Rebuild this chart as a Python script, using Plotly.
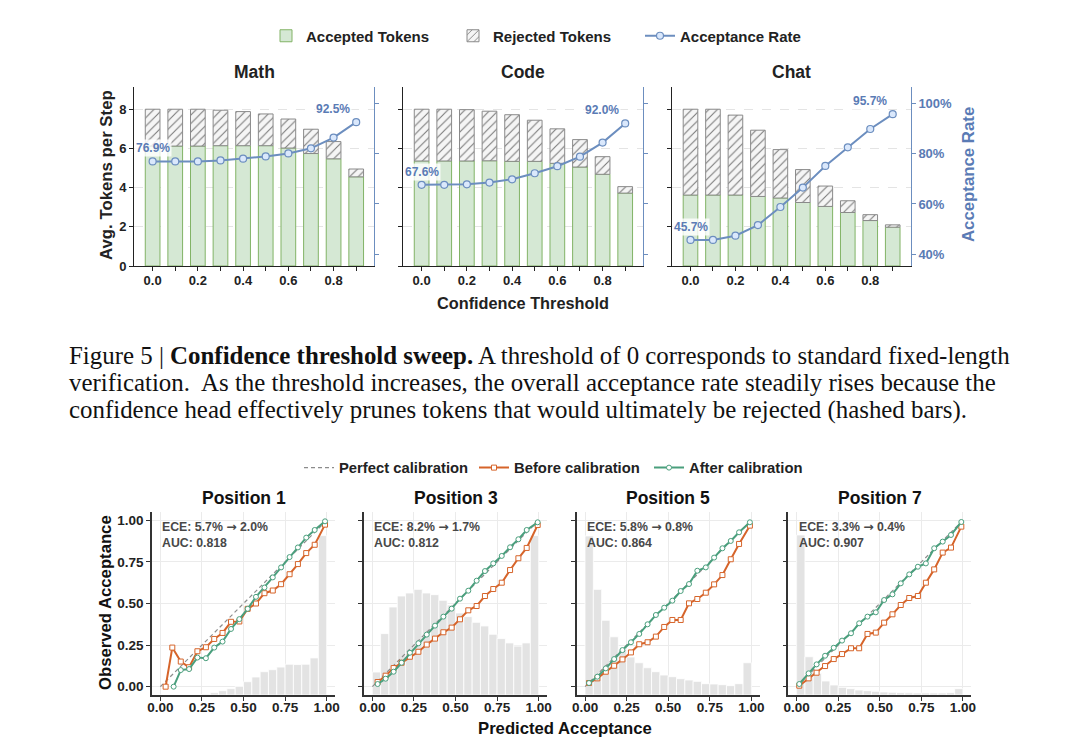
import plotly.graph_objects as go

# %% data -- confidence threshold sweep (top figure)
thresholds = [0.0, 0.1, 0.2, 0.3, 0.4, 0.5, 0.6, 0.7, 0.8, 0.9]
threshold_ticks = ["0.0", "", "0.2", "", "0.4", "", "0.6", "", "0.8", ""]

math_total = [8.0, 8.0, 8.0, 7.95, 7.88, 7.76, 7.5, 6.98, 6.35, 4.95]
math_accepted = [6.12, 6.12, 6.12, 6.14, 6.14, 6.14, 6.02, 5.74, 5.47, 4.55]
math_rate = [76.9, 76.9, 76.9, 77.3, 78.0, 78.9, 80.1, 82.1, 86.4, 92.5]

code_total = [8.0, 8.0, 7.98, 7.9, 7.72, 7.44, 7.0, 6.45, 5.58, 4.05]
code_accepted = [5.36, 5.36, 5.36, 5.37, 5.34, 5.34, 5.24, 5.05, 4.68, 3.72]
code_rate = [67.6, 67.6, 67.8, 68.5, 69.8, 72.2, 75.0, 78.8, 84.4, 92.0]

chat_total = [8.0, 8.0, 7.7, 6.93, 5.94, 4.92, 4.08, 3.33, 2.62, 2.1]
chat_accepted = [3.62, 3.62, 3.62, 3.55, 3.47, 3.24, 3.04, 2.73, 2.32, 1.98]
chat_rate = [45.7, 45.7, 47.4, 51.6, 58.8, 66.5, 75.1, 82.5, 89.8, 95.7]

domains = ["Math", "Code", "Chat"]
rate_ticks = [40, 60, 80, 100]
rate_ticktext = ["40%", "60%", "80%", "100%"]

caption_lines = [
    "Figure 5 | <b>Confidence threshold sweep.</b> A threshold of 0 corresponds to standard fixed-length",
    "verification.  As the threshold increases, the overall acceptance rate steadily rises because the",
    "confidence head effectively prunes tokens that would ultimately be rejected (hashed bars).",
]

# %% data -- calibration (bottom figure)
positions = ["Position 1", "Position 3", "Position 5", "Position 7"]
ece_before = ["5.7%", "8.2%", "5.8%", "3.3%"]
ece_after = ["2.0%", "1.7%", "0.8%", "0.4%"]
auc = ["0.818", "0.812", "0.864", "0.907"]

bin_centers = [0.025, 0.075, 0.125, 0.175, 0.225, 0.275, 0.325, 0.375, 0.425, 0.475,
               0.525, 0.575, 0.625, 0.675, 0.725, 0.775, 0.825, 0.875, 0.925, 0.975]

p1_hist = [0, 0, 0, 0, 0, 0.005, 0.014, 0.026, 0.038, 0.052,
           0.08, 0.108, 0.14, 0.152, 0.168, 0.185, 0.183, 0.185, 0.223, 0.958]
p3_hist = [0.138, 0.369, 0.529, 0.595, 0.613, 0.635, 0.613, 0.603, 0.569, 0.541,
           0.493, 0.471, 0.437, 0.415, 0.365, 0.339, 0.313, 0.294, 0.313, 0.958]
p5_hist = [0.956, 0.635, 0.449, 0.35, 0.274, 0.228, 0.194, 0.164, 0.14, 0.12,
           0.11, 0.098, 0.09, 0.082, 0.068, 0.066, 0.062, 0.056, 0.068, 0.194]
p7_hist = [0.962, 0.23, 0.13, 0.084, 0.06, 0.046, 0.038, 0.03, 0.026, 0.022,
           0.018, 0.016, 0.014, 0.013, 0.012, 0.012, 0.012, 0.012, 0.014, 0.038]

p1_x_before = [0.032, 0.072, 0.123, 0.173, 0.223, 0.274, 0.324, 0.374, 0.425, 0.475,
               0.525, 0.575, 0.626, 0.676, 0.726, 0.777, 0.827, 0.877, 0.928, 0.99]
p1_before = [0.0, 0.235, 0.151, 0.117, 0.213, 0.237, 0.287, 0.323, 0.39, 0.392,
             0.468, 0.5, 0.562, 0.578, 0.616, 0.676, 0.737, 0.803, 0.853, 0.974]
p1_x_after = [0.08, 0.123, 0.173, 0.223, 0.274, 0.324, 0.374, 0.425, 0.475,
              0.525, 0.575, 0.626, 0.676, 0.726, 0.777, 0.827, 0.877, 0.928, 0.99]
p1_after = [0.0, 0.1, 0.106, 0.175, 0.171, 0.235, 0.271, 0.347, 0.406,
            0.468, 0.54, 0.596, 0.657, 0.717, 0.779, 0.837, 0.896, 0.942, 0.994]

p3_x = [0.032, 0.08, 0.128, 0.176, 0.226, 0.277, 0.327, 0.377, 0.427, 0.477,
        0.527, 0.577, 0.627, 0.677, 0.727, 0.778, 0.828, 0.878, 0.928, 0.994]
p3_before = [0.028, 0.066, 0.112, 0.144, 0.18, 0.21, 0.253, 0.289, 0.327, 0.355,
             0.405, 0.459, 0.485, 0.545, 0.587, 0.625, 0.701, 0.772, 0.834, 0.972]
p3_after = [0.016, 0.048, 0.09, 0.144, 0.204, 0.261, 0.313, 0.367, 0.421, 0.469,
            0.529, 0.577, 0.637, 0.695, 0.741, 0.786, 0.838, 0.886, 0.942, 0.988]

p5_x = [0.024, 0.074, 0.125, 0.175, 0.225, 0.276, 0.326, 0.376, 0.426, 0.476,
        0.525, 0.575, 0.625, 0.675, 0.726, 0.776, 0.826, 0.876, 0.926, 0.991]
p5_before = [0.022, 0.05, 0.09, 0.126, 0.164, 0.206, 0.255, 0.267, 0.301, 0.359,
             0.401, 0.401, 0.501, 0.527, 0.565, 0.615, 0.671, 0.766, 0.858, 0.968]
p5_after = [0.022, 0.06, 0.11, 0.166, 0.22, 0.267, 0.317, 0.375, 0.431, 0.475,
            0.517, 0.575, 0.617, 0.697, 0.717, 0.776, 0.832, 0.876, 0.928, 0.988]

p7_x = [0.016, 0.072, 0.12, 0.171, 0.223, 0.273, 0.327, 0.376, 0.426, 0.476,
        0.526, 0.576, 0.626, 0.677, 0.729, 0.777, 0.827, 0.878, 0.928, 0.99]
p7_before = [0.006, 0.05, 0.084, 0.124, 0.166, 0.196, 0.231, 0.231, 0.317, 0.325,
             0.385, 0.435, 0.491, 0.533, 0.545, 0.625, 0.705, 0.806, 0.836, 0.962]
p7_after = [0.016, 0.08, 0.134, 0.186, 0.234, 0.277, 0.321, 0.381, 0.421, 0.447,
            0.521, 0.555, 0.621, 0.675, 0.721, 0.741, 0.832, 0.872, 0.912, 0.99]

calib_ticks = [0, 0.25, 0.5, 0.75, 1.0]
calib_ticktext = ["0.00", "0.25", "0.50", "0.75", "1.00"]

# %% styling
# the page body has an 8px margin, so the figure is drawn 16px smaller and every
# position below is given in window pixels and shifted by that offset
OFF = 8
W, H = 1080 - 2 * OFF, 746 - 2 * OFF
FONT = "Liberation Sans"
GREEN_FILL, GREEN_EDGE = "#d5e8d4", "#82b366"
GREY_FILL, GREY_EDGE = "#f5f5f5", "#8a8a8a"
BLUE, BLUE_TXT, BLUE_FILL = "#6c8ebf", "#5a7bb5", "#dae8fc"
ORANGE, TEAL = "#d6642a", "#4a9f7d"


def px_x(p):
    return (p - OFF) / W


def px_y(p):
    return 1 - (p - OFF) / H


def label(text, xp, yp, size, color, angle=0):
    fig.add_annotation(
        x=px_x(xp), y=px_y(yp), xref="paper", yref="paper", text=text,
        xanchor="center", yanchor="middle", textangle=angle, showarrow=False,
        font=dict(family=FONT, size=size, color=color),
    )


top_xdom = [[134.3, 374.3], [403.3, 643.3], [672.3, 910.7]]
top_ydom = [px_y(266), px_y(86.7)]
bot_xdom = [[152, 335], [364, 547], [576.7, 759.7], [788.3, 971.3]]
bot_ydom = [px_y(695), px_y(512)]

fig = go.Figure()

# %% top: stacked bars + acceptance rate line
top_data = [
    (math_total, math_accepted, math_rate),
    (code_total, code_accepted, code_rate),
    (chat_total, chat_accepted, chat_rate),
]
for i, (total, accepted, rate) in enumerate(top_data):
    xa = "x" if i == 0 else f"x{i + 1}"
    ya = "y" if i == 0 else f"y{i + 1}"
    yr = f"y{i + 4}"
    rejected = [t - a for t, a in zip(total, accepted)]
    fig.add_trace(go.Bar(
        x=thresholds, y=accepted, base=0, width=0.065, xaxis=xa, yaxis=ya,
        marker=dict(color=GREEN_FILL, line=dict(color=GREEN_EDGE, width=1)),
        name="Accepted Tokens", legend="legend", showlegend=(i == 0),
    ))
    fig.add_trace(go.Bar(
        x=thresholds, y=rejected, base=accepted, width=0.065, xaxis=xa, yaxis=ya,
        marker=dict(color=GREY_FILL, line=dict(color=GREY_EDGE, width=1),
                    pattern=dict(shape="/", fgcolor="#7a7a7a", bgcolor=GREY_FILL,
                                 size=6, solidity=0.18)),
        name="Rejected Tokens", legend="legend", showlegend=(i == 0),
    ))
    fig.add_trace(go.Scatter(
        x=thresholds, y=rate, xaxis=xa, yaxis=yr, mode="lines+markers",
        line=dict(color=BLUE, width=2),
        marker=dict(size=7, color=BLUE_FILL, line=dict(color=BLUE, width=1.2)),
        name="Acceptance Rate", legend="legend", showlegend=(i == 0),
    ))
    for xv, yv, xs in [(thresholds[0], rate[0], 0), (thresholds[-1], rate[-1], -23)]:
        fig.add_annotation(
            x=xv, y=yv, xref=xa, yref=yr, text=f"<b>{yv:.1f}%</b>", showarrow=False,
            xanchor="center", yanchor="middle", xshift=xs, yshift=13,
            bgcolor="rgba(255,255,255,0.8)", borderpad=1,
            font=dict(family=FONT, size=12, color=BLUE_TXT),
        )
    label(f"<b>{domains[i]}</b>", sum(top_xdom[i]) / 2, 72, 17.5, "#222")

    key = "" if i == 0 else str(i + 1)
    fig.layout[f"xaxis{key}"] = dict(
        domain=[px_x(top_xdom[i][0]), px_x(top_xdom[i][1])], anchor=ya,
        range=[-0.081, 0.98], tickvals=thresholds, ticktext=threshold_ticks,
        showline=True, linecolor="#222", linewidth=1.2, ticks="outside",
        ticklen=4, tickcolor="#222", showgrid=False, zeroline=False, automargin=False,
        ticklabelstandoff=-2,
        tickfont=dict(family=FONT, size=13, color="#222", weight="bold"),
    )
    fig.layout[f"yaxis{key}"] = dict(
        domain=top_ydom, anchor=xa, range=[0, 9.15], tickvals=[0, 2, 4, 6, 8],
        showticklabels=(i == 0), showline=True, linecolor="#222", linewidth=1.2,
        ticks="outside", ticklen=4, tickcolor="#222", showgrid=True,
        gridcolor="#e4e4e4", griddash="dash", gridwidth=0.8, zeroline=False,
        automargin=False,
        tickfont=dict(family=FONT, size=13, color="#222", weight="bold"),
    )
    fig.layout[f"yaxis{i + 4}"] = dict(
        overlaying=ya, anchor=xa, side="right", range=[35.35, 106.6],
        tickvals=rate_ticks, ticktext=rate_ticktext, showticklabels=(i == 2),
        showline=True, linecolor=BLUE, linewidth=1.2, ticks="outside",
        ticklen=4, tickcolor=BLUE, showgrid=False, zeroline=False, automargin=False,
        tickfont=dict(family=FONT, size=13, color=BLUE_TXT, weight="bold"),
    )

# %% bottom: calibration panels
calib = [
    (p1_hist, p1_x_before, p1_before, p1_x_after, p1_after),
    (p3_hist, p3_x, p3_before, p3_x, p3_after),
    (p5_hist, p5_x, p5_before, p5_x, p5_after),
    (p7_hist, p7_x, p7_before, p7_x, p7_after),
]
for j, (hist, xb, yb, xf, yf) in enumerate(calib):
    n = j + 7
    xa, ya = f"x{n}", f"y{n}"
    fig.add_trace(go.Bar(
        x=bin_centers, y=hist, base=-0.05, width=0.05, xaxis=xa, yaxis=ya,
        marker=dict(color="#e3e3e3", line=dict(color="white", width=0.8)),
        showlegend=False, hoverinfo="skip",
    ))
    fig.add_trace(go.Scatter(
        x=[0, 1], y=[0, 1], xaxis=xa, yaxis=ya, mode="lines",
        line=dict(color="#8c8c8c", width=1.2, dash="4px,3px"),
        name="Perfect calibration", legend="legend2", showlegend=(j == 0),
    ))
    fig.add_trace(go.Scatter(
        x=xb, y=yb, xaxis=xa, yaxis=ya, mode="lines+markers",
        line=dict(color=ORANGE, width=2),
        marker=dict(symbol="square", size=5, color="white", line=dict(color=ORANGE, width=1)),
        name="Before calibration", legend="legend2", showlegend=(j == 0),
    ))
    fig.add_trace(go.Scatter(
        x=xf, y=yf, xaxis=xa, yaxis=ya, mode="lines+markers",
        line=dict(color=TEAL, width=2),
        marker=dict(symbol="circle", size=5, color="white", line=dict(color=TEAL, width=1)),
        name="After calibration", legend="legend2", showlegend=(j == 0),
    ))
    fig.add_annotation(
        x=0.045, y=0.965, xref=f"{xa} domain", yref=f"{ya} domain",
        xanchor="left", yanchor="top", align="left", showarrow=False,
        text=(f"<b>ECE: {ece_before[j]} <span style='font-family:DejaVu Sans'>\u2192</span>"
              f" {ece_after[j]}<br>AUC: {auc[j]}</b>"),
        font=dict(family=FONT, size=12.3, color="#484848"),
    )
    label(f"<b>{positions[j]}</b>", sum(bot_xdom[j]) / 2, 498, 17.5, "#111")
    fig.layout[f"xaxis{n}"] = dict(
        domain=[px_x(bot_xdom[j][0]), px_x(bot_xdom[j][1])], anchor=ya,
        range=[-0.05, 1.05], tickvals=calib_ticks, ticktext=calib_ticktext,
        showline=True, linecolor="#333", linewidth=1.5, ticks="outside",
        ticklen=4, tickcolor="#333", showgrid=True, gridcolor="#ebebeb",
        zeroline=False, automargin=False, ticklabelstandoff=-5,
        tickfont=dict(family=FONT, size=13.5, color="#222", weight="bold"),
    )
    fig.layout[f"yaxis{n}"] = dict(
        domain=bot_ydom, anchor=xa, range=[-0.05, 1.05], tickvals=calib_ticks,
        ticktext=calib_ticktext, showticklabels=(j == 0), showline=True,
        linecolor="#333", linewidth=1.5, ticks="outside", ticklen=4,
        tickcolor="#333", showgrid=True, gridcolor="#ebebeb", zeroline=False,
        automargin=False,
        tickfont=dict(family=FONT, size=13.5, color="#222", weight="bold"),
    )

# %% axis titles and caption
label("<b>Avg. Tokens per Step</b>", 106, 175, 16.8, "#222", -90)
label("<b>Acceptance Rate</b>", 968, 175, 16.8, BLUE_TXT, -90)
label("<b>Confidence Threshold</b>", 523, 303, 16.3, "#222")
label("<b>Observed Acceptance</b>", 105, 603, 16.7, "#111", -90)
label("<b>Predicted Acceptance</b>", 565, 728, 16.7, "#111")

for k, line in enumerate(caption_lines):
    fig.add_annotation(
        x=px_x(67), y=px_y(355 + 27.5 * k), xref="paper", yref="paper",
        xanchor="left", yanchor="middle", text=line, showarrow=False,
        font=dict(family="Liberation Serif", size=24.9, color="#111"),
    )

fig.update_layout(
    template="none",
    width=W, height=H, margin=dict(l=0, r=0, t=0, b=0, autoexpand=False),
    paper_bgcolor="white", plot_bgcolor="white", barmode="overlay",
    font=dict(family=FONT, color="#222"),
    legend=dict(orientation="h", x=px_x(266), y=px_y(36), xanchor="left",
                yanchor="middle", entrywidth=142, bgcolor="rgba(0,0,0,0)",
                font=dict(family=FONT, size=15, weight="bold"),
                traceorder="normal"),
    legend2=dict(orientation="h", x=px_x(299), y=px_y(468), xanchor="left",
                 yanchor="middle", entrywidth=130, bgcolor="rgba(0,0,0,0)",
                 font=dict(family=FONT, size=14.8, weight="bold"),
                 traceorder="normal"),
)

fig.write_html("out.html")
